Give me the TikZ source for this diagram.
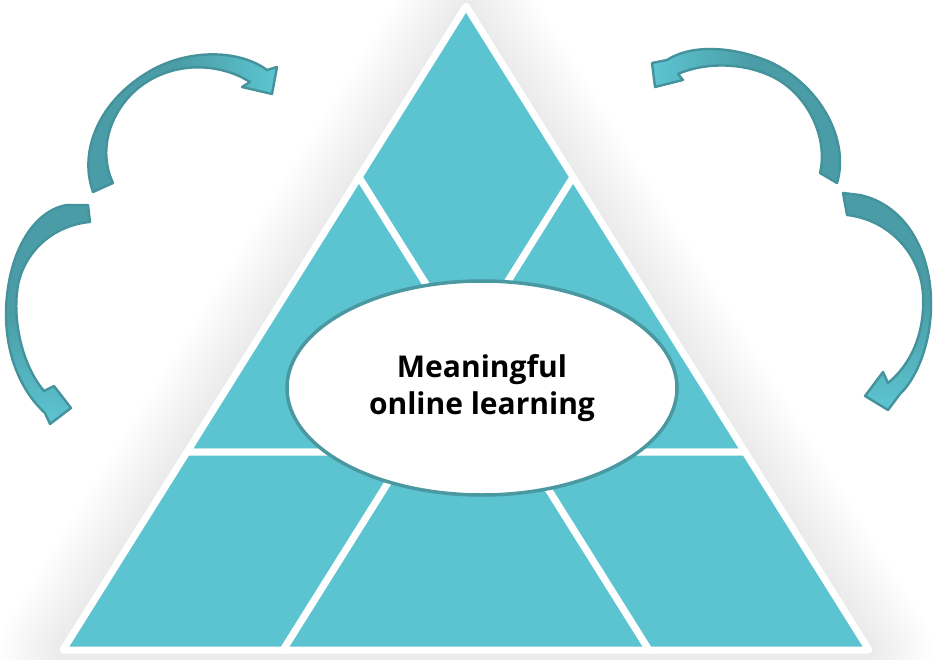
\documentclass[tikz,border=0pt]{standalone}
\usepackage{fontspec}
\setmainfont{Open Sans}
\usetikzlibrary{shapes.geometric}
\definecolor{piecec}{HTML}{5CC4D1}
\definecolor{adark}{HTML}{4A9DA7}
\definecolor{alight}{HTML}{5CC5D1}
\definecolor{aline}{HTML}{44939C}
\definecolor{ring}{HTML}{4A98A1}
\tikzset{
  piece/.style={fill=piecec, draw=white, line width=7pt, line join=round},
  barrow/.style={draw=aline, line width=2.4pt, line join=round},
  halo/.style={draw=black, opacity=0.005, line join=round},
}
\begin{document}
\begin{tikzpicture}[x=1pt,y=-1pt]
\useasboundingbox (0,0) rectangle (933,660);
\fill[white] (0,0) rectangle (933,660);
% key points
\coordinate (ap) at (466,6);
\coordinate (bl) at (63,650);
\coordinate (br) at (869,650);
\coordinate (dl) at (359,177);
\coordinate (dr) at (573,177);
\coordinate (db) at (466,348);
\coordinate (hl) at (187,452);
\coordinate (hr) at (745,452);
\coordinate (lmr) at (531,452);
\coordinate (rml) at (401,452);
\coordinate (b1) at (283,650);
\coordinate (b2) at (649,650);
\coordinate (p1) at (407,452);
\coordinate (p2) at (525,452);
\coordinate (bm) at (466,358);
% soft shadow
\foreach \w in {6,12,...,126}
  \draw[halo, line width=\w pt] (ap) -- (bl) -- (br) -- cycle;
% pieces
\draw[piece] (dl) -- (hl) -- (lmr) -- cycle;
\draw[piece] (dr) -- (hr) -- (rml) -- cycle;
\draw[piece] (b1) -- (b2) -- (bm) -- cycle;
\draw[piece] (hl) -- (bl) -- (b1) -- (p1) -- cycle;
\draw[piece] (hr) -- (br) -- (b2) -- (p2) -- cycle;
\draw[piece] (ap) -- (dl) -- (db) -- (dr) -- cycle;
% centre ellipse
\node[ellipse, draw=ring, line width=3.5pt, fill=white,
      minimum width=390pt, minimum height=214pt, inner sep=0pt,
      align=center, font=\fontsize{30}{37}\selectfont\bfseries]
      (core) at (482,388) {Meaningful\\online learning};
% left-top arrow
\draw[barrow, left color=adark, right color=alight, middle color=adark]
  (93,192) .. controls (78,150) and (100,100) .. (150,71)
           .. controls (190,48) and (240,50) .. (267,70)
  -- (277,67) -- (272,94) -- (242,87) -- (250,82)
           .. controls (225,66) and (185,60) .. (150,80)
           .. controls (115,100) and (95,145) .. (113,183)
  -- cycle;
% left-bottom arrow
\draw[barrow, top color=adark, bottom color=alight, middle color=adark]
  (88,205) -- (67,205) .. controls (35,210) and (8,250) .. (6,310)
           .. controls (5,360) and (25,395) .. (45,413)
  -- (50,424) -- (71,408) -- (54,386) -- (44,391)
           .. controls (22,365) and (12,320) .. (18,285)
           .. controls (25,250) and (55,225) .. (90,222)
  -- cycle;
% right-top arrow
\draw[barrow, left color=alight, right color=adark, middle color=adark]
  (837,183) .. controls (850,140) and (820,85) .. (770,62)
            .. controls (730,45) and (690,45) .. (667,60)
  -- (652,63) -- (655,87) -- (683,80) -- (678,74)
            .. controls (700,64) and (740,60) .. (775,78)
            .. controls (810,97) and (828,140) .. (820,173)
  -- cycle;
% right-bottom arrow
\draw[barrow, top color=adark, bottom color=alight, middle color=adark]
  (843,193) -- (860,195) .. controls (905,205) and (930,250) .. (931,300)
            .. controls (932,345) and (915,380) .. (900,394)
  -- (888,410) -- (865,396) -- (883,372) -- (888,383)
            .. controls (910,365) and (925,335) .. (923,295)
            .. controls (921,255) and (890,220) .. (847,215)
  -- cycle;
\end{tikzpicture}
\end{document}
